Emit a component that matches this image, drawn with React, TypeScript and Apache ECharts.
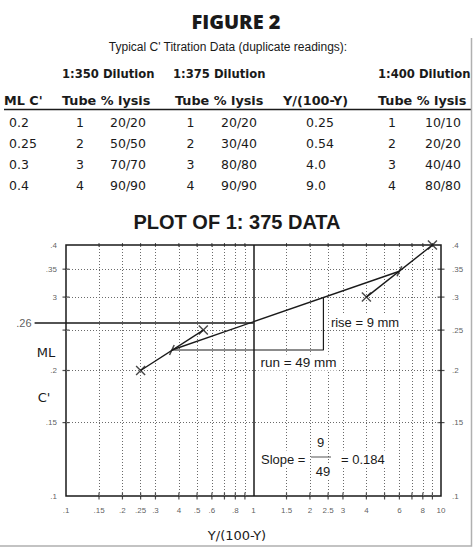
import React, { useEffect, useRef } from 'react';
import * as echarts from 'echarts';

// ---------- table data ----------
const figureTitle = 'FIGURE 2';
const tableCaption = "Typical C' Titration Data (duplicate readings):";
const dilutionHeaders = ['1:350 Dilution', '1:375 Dilution', '1:400 Dilution'];
const columnHeaders = ["ML C'", 'Tube % lysis', 'Tube % lysis', 'Y/(100-Y)', 'Tube % lysis'];
const mlC = ['0.2', '0.25', '0.3', '0.4'];
const tubes = ['1', '2', '3', '4'];
const lysis350 = ['20/20', '50/50', '70/70', '90/90'];
const lysis375 = ['20/20', '30/40', '80/80', '90/90'];
const ratio375 = ['0.25', '0.54', '4.0', '9.0'];
const lysis400 = ['10/10', '20/20', '40/40', '80/80'];

// ---------- plot data ----------
const plotTitle = 'PLOT OF 1: 375 DATA';
const xAxisTitle = 'Y/(100-Y)';
const ratioValues = [0.25, 0.54, 4.0, 9.0];
const mlValues = [0.2, 0.25, 0.3, 0.4];
const midRatio = [0.367, 6.0];
const midML = [0.224, 0.346];
const level50ML = 0.26;
const level50Ratio = 1;
const level50StartRatio = 0.068;
const runEndRatio = 2.36;
const riseTopML = 0.3;

const xGridValues = [0.15, 0.2, 0.25, 0.3, 0.4, 0.5, 0.6, 0.7, 0.8, 0.9, 1.5, 2, 2.5, 3, 4, 5, 6, 7, 8, 9];
const yGridValues = [0.15, 0.2, 0.25, 0.3, 0.35];
const xLabelValues = [0.1, 0.15, 0.2, 0.25, 0.3, 0.4, 0.5, 0.6, 0.8, 1, 1.5, 2, 2.5, 3, 4, 6, 8, 10];
const xLabelTexts = ['.1', '.15', '.2', '.25', '.3', '4', '.5', '.6', '.8', '1', '1.5', '2', '2.5', '3', '4', '6', '8', '10'];
const yLeftValues = [0.1, 0.15, 0.2, 0.3, 0.35, 0.4];
const yLeftTexts = ['.1', '.15', '.2', '3', '.35', '.4'];
const yRightValues = [0.1, 0.15, 0.2, 0.25, 0.3, 0.35, 0.4];
const yRightTexts = ['.1', '.15', '.2', '.25', '.3', '.35', '.4'];

const X_MIN = 0.1, X_MAX = 10, Y_MIN = 0.1, Y_MAX = 0.4;

const SANS = '"Liberation Sans", Arial, sans-serif';
const TFONT = '"DejaVu Sans", sans-serif';
const INK = '#1a1a1a';

function txt(text: string, x: number, y: number, o: any = {}) {
  return {
    type: 'text',
    x,
    y,
    z: 100,
    silent: true,
    style: {
      text,
      fill: o.fill || INK,
      fontSize: o.size || 12,
      fontFamily: o.family || SANS,
      fontWeight: o.weight || 'normal',
      align: o.align || 'left',
      verticalAlign: 'middle',
      backgroundColor: o.bg,
      padding: o.pad,
    },
  };
}

const labelSeries = (data: any[], texts: string[], position: string, distance: number, size = 8) => ({
  type: 'scatter',
  silent: true,
  clip: false,
  symbolSize: 0.1,
  itemStyle: { color: 'rgba(0,0,0,0)' },
  z: 5,
  data: data.map((d, i) => ({ value: d, name: texts[i] })),
  label: {
    show: true,
    position,
    distance,
    formatter: (p: any) => p.name,
    fontSize: size,
    fontFamily: SANS,
    color: '#333',
  },
});

const tickSeries = (data: any[], size: number[]) => ({
  type: 'scatter',
  silent: true,
  clip: false,
  symbol: 'rect',
  symbolSize: size,
  itemStyle: { color: '#222' },
  z: 4,
  data,
});

const lineSeries = (data: any[], width = 1.4) => ({
  type: 'line',
  silent: true,
  clip: false,
  symbol: 'none',
  lineStyle: { color: INK, width },
  z: 6,
  data,
});

export default function App() {
  const ref = useRef<HTMLDivElement>(null);
  useEffect(() => {
    if (!ref.current) return;
    const chart = echarts.init(ref.current, null, { renderer: 'svg' });

    const rowY = [122.5, 143.5, 164, 185.5];
    const graphics: any[] = [];
    graphics.push(txt(figureTitle, 236, 21, { size: 20, weight: 800, family: '"Open Sans", sans-serif', align: 'center' }));
    graphics.push(txt(tableCaption, 228, 47, { size: 12, align: 'center' }));
    const dilX = [62, 173, 378];
    dilutionHeaders.forEach((h, i) => graphics.push(txt(h, dilX[i], 74, { size: 11.6, weight: 'bold', family: TFONT })));
    const colX = [4, 62, 175, 283, 378];
    columnHeaders.forEach((h, i) => graphics.push(txt(h, colX[i], 100, { size: 12.8, weight: 'bold', family: TFONT })));
    graphics.push({
      type: 'line', z: 100, silent: true,
      shape: { x1: 4, y1: 109.5, x2: 471, y2: 109.5 },
      style: { stroke: INK, lineWidth: 1.5 },
    });
    const cols: [string[], number, string][] = [
      [mlC, 9, 'left'],
      [tubes, 80, 'center'],
      [lysis350, 128, 'center'],
      [tubes, 190.5, 'center'],
      [lysis375, 239, 'center'],
      [ratio375, 306, 'left'],
      [tubes, 392, 'center'],
      [lysis400, 461, 'right'],
    ];
    cols.forEach(([arr, x, align]) => {
      arr.forEach((v, r) => graphics.push(txt(v, x, rowY[r], { size: 12.5, family: TFONT, align })));
    });
    graphics.push(txt(plotTitle, 237, 222, { size: 20, weight: 'bold', align: 'center' }));
    graphics.push(txt('ML', 46, 352, { size: 13, family: TFONT, align: 'center' }));
    graphics.push(txt("C'", 44, 397, { size: 13, family: TFONT, align: 'center' }));
    graphics.push(txt(xAxisTitle, 237, 535, { size: 13, family: TFONT, align: 'center' }));
    // annotations
    graphics.push(txt('rise = 9 mm', 365, 322, { size: 13, align: 'center', bg: '#fff', pad: [1, 2] }));
    graphics.push(txt('run = 49 mm', 298.5, 362.5, { size: 13.5, align: 'center', bg: '#fff', pad: [1, 2] }));
    graphics.push(txt('Slope =', 260, 459, { size: 13, bg: '#fff', pad: [2, 1] }));
    graphics.push(txt('9', 320.5, 442, { size: 13, align: 'center', bg: '#fff', pad: [1, 2] }));
    graphics.push({
      type: 'line', z: 100, silent: true,
      shape: { x1: 311, y1: 457, x2: 331, y2: 457 },
      style: { stroke: '#555', lineWidth: 1 },
    });
    graphics.push(txt('49', 323, 471, { size: 13, align: 'center', bg: '#fff', pad: [1, 2] }));
    graphics.push(txt('= 0.184', 340, 459, { size: 13, bg: '#fff', pad: [2, 1] }));
    // scan frame
    graphics.push({
      type: 'polyline', z: 100, silent: true,
      shape: { points: [[471.5, 38], [471.5, 546], [0, 546]] },
      style: { stroke: '#b0b0b0', lineWidth: 1.5, fill: 'none' },
    });

    const xMark = 'path://M0,1L1,0L5,4L9,0L10,1L6,5L10,9L9,10L5,6L1,10L0,9L4,5Z';

    const option: any = {
      animation: false,
      backgroundColor: '#fff',
      grid: {
        left: 66, right: 34, top: 245, bottom: 53,
        show: true, borderColor: INK, borderWidth: 1.5, backgroundColor: 'transparent',
      },
      xAxis: {
        type: 'log', logBase: 10, min: X_MIN, max: X_MAX,
        axisLine: { show: false }, axisTick: { show: false },
        axisLabel: { show: false }, splitLine: { show: false },
      },
      yAxis: {
        type: 'log', logBase: 10, min: Y_MIN, max: Y_MAX,
        axisLine: { show: false }, axisTick: { show: false },
        axisLabel: { show: false }, splitLine: { show: false },
      },
      graphic: graphics,
      series: [
        {
          type: 'line',
          silent: true,
          data: [],
          z: 1,
          markLine: {
            silent: true,
            symbol: 'none',
            label: { show: false },
            emphasis: { disabled: true },
            lineStyle: { color: '#6a6a6a', type: [1, 2], width: 1 },
            data: [
              ...xGridValues.map((v) => ({ xAxis: v })),
              ...yGridValues.map((v) => ({ yAxis: v })),
              { xAxis: level50Ratio, lineStyle: { color: INK, type: 'solid', width: 1.5 } },
            ],
          },
        },
        // ticks on the frame
        tickSeries(xGridValues.map((v) => [v, Y_MIN]), [1.2, 7]),
        tickSeries(xGridValues.map((v) => [v, Y_MAX]), [1, 4]),
        tickSeries(yGridValues.map((v) => [X_MIN, v]), [7, 1.2]),
        tickSeries(yGridValues.map((v) => [X_MAX, v]), [7, 1.2]),
        // tick labels
        labelSeries(xLabelValues.map((v) => [v, Y_MIN]), xLabelTexts, 'bottom', 10),
        labelSeries(yLeftValues.map((v) => [X_MIN, v]), yLeftTexts, 'left', 9),
        labelSeries(yRightValues.map((v) => [X_MAX, v]), yRightTexts, 'right', 11),
        labelSeries([[level50StartRatio, level50ML]], ['.26'], 'left', 3, 11),
        // duplicate-pair lines
        lineSeries([[ratioValues[0], mlValues[0]], [ratioValues[1], mlValues[1]]]),
        lineSeries([[ratioValues[2], mlValues[2]], [ratioValues[3], mlValues[3]]]),
        // fitted line through midpoints
        lineSeries([[midRatio[0], midML[0]], [midRatio[1], midML[1]]]),
        // rise / run triangle
        lineSeries([[midRatio[0], midML[0]], [runEndRatio, midML[0]], [runEndRatio, riseTopML]], 1.2),
        // data points
        {
          type: 'scatter',
          silent: true,
          clip: false,
          symbol: xMark,
          symbolSize: 10,
          itemStyle: { color: INK },
          z: 8,
          data: ratioValues.map((v, i) => [v, mlValues[i]]),
        },
        {
          type: 'scatter',
          silent: true,
          clip: false,
          symbol: 'rect',
          symbolSize: [1.5, 11],
          symbolRotate: -25,
          itemStyle: { color: INK },
          z: 8,
          data: midRatio.map((v, i) => [v, midML[i]]),
        },
      ],
    };
    chart.setOption(option);

    // 50% level line, extended beyond the left frame, placed through the chart's own scales
    const p0 = chart.convertToPixel({ gridIndex: 0 }, [level50StartRatio, level50ML]) as number[];
    const p1 = chart.convertToPixel({ gridIndex: 0 }, [level50Ratio, level50ML]) as number[];
    if (p0 && p1) {
      chart.setOption({
        graphic: [
          ...graphics,
          {
            type: 'line', z: 50, silent: true,
            shape: { x1: p0[0], y1: p0[1], x2: p1[0], y2: p1[1] },
            style: { stroke: INK, lineWidth: 1.5 },
          },
        ],
      });
    }
    return () => chart.dispose();
  }, []);

  return (
    <div
      ref={ref}
      style={{ position: 'fixed', left: 0, top: 0, width: 475, height: 549, background: '#fff' }}
    />
  );
}
